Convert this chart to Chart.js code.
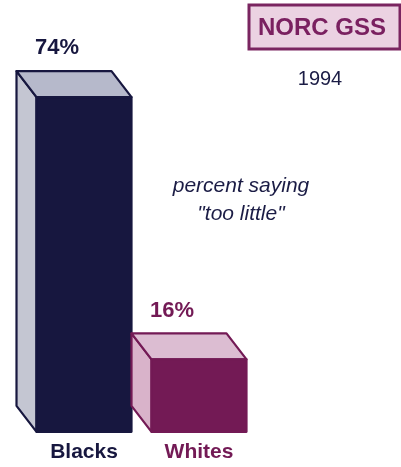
<!DOCTYPE html>
<html>
<head>
<meta charset="utf-8">
<script src="https://cdn.jsdelivr.net/npm/chart.js@4.4.1/dist/chart.umd.min.js"></script>
<style>
  html, body { margin: 0; padding: 0; background: #ffffff; }
  #wrap { position: relative; width: 401px; height: 467px; }
  canvas { display: block; }
</style>
</head>
<body>
<div id="wrap"><canvas id="c" width="401" height="467"></canvas></div>
<script>
const categories = ["Blacks", "Whites"];
const values = [74, 16];
const valueLabels = ["74%", "16%"];
const sourceLabel = "NORC GSS";
const yearLabel = "1994";
const noteLines = ["percent saying", "\"too little\""];

const frontColors = ["#17173f", "#731a55"];
const topColors = ["#b6b9cb", "#dcbdd2"];
const sideColors = ["#c4c6d2", "#d9b3ca"];
const edgeColors = ["#17173f", "#731a55"];
const textColors = ["#17173f", "#731a55"];

const DX = 20, DY = 26;
const FONT = "'Liberation Sans', Arial, Helvetica, sans-serif";

const box3d = {
  id: 'box3d',
  afterDatasetsDraw(chart) {
    const ctx = chart.ctx;
    const meta = chart.getDatasetMeta(0);
    meta.data.forEach((bar, i) => {
      const p = bar.getProps(['x', 'y', 'base', 'width'], true);
      const x1 = p.x - p.width / 2, x2 = p.x + p.width / 2;
      const yt = p.y, yb = p.base;
      ctx.save();
      ctx.lineJoin = 'round';
      ctx.lineWidth = 2.2;
      ctx.strokeStyle = edgeColors[i];
      // left side face
      ctx.beginPath();
      ctx.moveTo(x1, yt);
      ctx.lineTo(x1 - DX, yt - DY);
      ctx.lineTo(x1 - DX, yb - DY);
      ctx.lineTo(x1, yb);
      ctx.closePath();
      ctx.fillStyle = sideColors[i];
      ctx.fill();
      ctx.stroke();
      // top face
      ctx.beginPath();
      ctx.moveTo(x1, yt);
      ctx.lineTo(x1 - DX, yt - DY);
      ctx.lineTo(x2 - DX, yt - DY);
      ctx.lineTo(x2, yt);
      ctx.closePath();
      ctx.fillStyle = topColors[i];
      ctx.fill();
      ctx.stroke();
      // front outline
      ctx.strokeRect(x1, yt, p.width, yb - yt);
      // value label
      ctx.fillStyle = textColors[i];
      ctx.font = "bold 22px " + FONT;
      ctx.textAlign = 'center';
      ctx.textBaseline = 'middle';
      ctx.fillText(valueLabels[i], p.x - DX - 7, yt - DY - 23);
      ctx.restore();
    });

    // source box
    ctx.save();
    ctx.fillStyle = "#ebd2e2";
    ctx.fillRect(249, 5, 151, 44);
    ctx.lineWidth = 3;
    ctx.strokeStyle = "#7a2560";
    ctx.strokeRect(249, 5, 151, 44);
    ctx.fillStyle = "#7a2060";
    ctx.font = "bold 24px " + FONT;
    ctx.textAlign = 'center';
    ctx.textBaseline = 'middle';
    ctx.fillText(sourceLabel, 322, 28);
    // year
    ctx.fillStyle = "#1b1c45";
    ctx.font = "20px " + FONT;
    ctx.fillText(yearLabel, 320, 79);
    // note
    ctx.font = "italic 21px " + FONT;
    ctx.fillText(noteLines[0], 241, 186);
    ctx.fillText(noteLines[1], 241, 214);
    ctx.restore();
  }
};

new Chart(document.getElementById('c'), {
  type: 'bar',
  data: {
    labels: categories,
    datasets: [{
      data: values,
      backgroundColor: frontColors,
      borderWidth: 0,
      barPercentage: 0.826,
      categoryPercentage: 1.0
    }]
  },
  options: {
    responsive: false,
    animation: false,
    events: [],
    layout: { padding: { left: 26.5, right: 144.5, top: 70, bottom: -6 } },
    plugins: { legend: { display: false }, tooltip: { enabled: false } },
    scales: {
      x: {
        display: true,
        grid: { display: false, drawTicks: false },
        border: { display: false },
        ticks: {
          padding: 8,
          color: (c) => textColors[c.index],
          font: { family: FONT, size: 21, weight: 'bold', lineHeight: 1.2 }
        }
      },
      y: {
        display: false,
        min: 0,
        max: 80
      }
    }
  },
  plugins: [box3d]
});
</script>
</body>
</html>
